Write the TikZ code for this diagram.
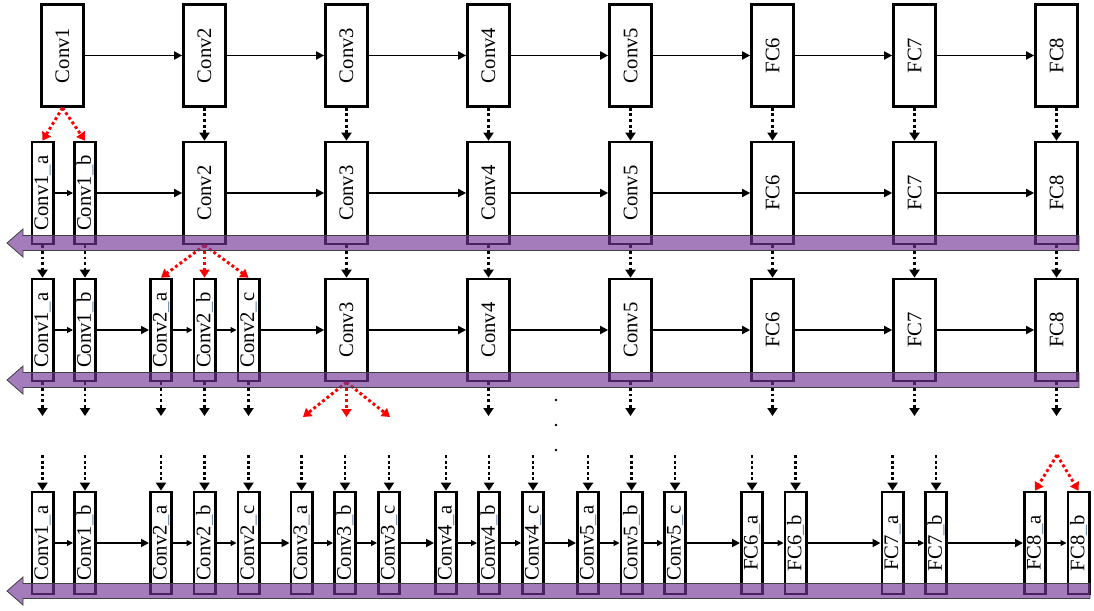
\documentclass[tikz,border=0pt]{standalone}
\usepackage{fontspec}
\setmainfont{Liberation Serif}
\usepackage{xcolor}
\usepackage{tikz}
\usetikzlibrary{arrows.meta}

\definecolor{bandpurple}{RGB}{115,52,150}
\definecolor{underbar}{RGB}{105,135,165}
\newcommand{\vlbl}[1]{\rotatebox{90}{#1}}
\newcommand{\sublbl}[2]{\rotatebox{90}{#1{\color{underbar}\_}#2}}

\begin{document}
\begin{tikzpicture}[
  x=0.75pt, y=-0.75pt,
  big/.style={draw, line width=2pt, minimum width=31.5pt, minimum height=76.5pt, inner sep=0pt, font=\fontsize{15.5}{18}\selectfont},
  small/.style={big, minimum width=16pt},
  arr/.style={-{Triangle[length=6pt,width=6pt]}, line width=1.35pt},
  thinarr/.style={-{Triangle[length=4.5pt,width=4.5pt]}, line width=0.8pt},
  drop/.style={-{Triangle[length=6pt,width=7.5pt]}, line width=2.2pt, dash pattern=on 2.2pt off 2pt},
  split/.style={drop, red},
  band/.style={draw=black!75, line width=0.6pt, fill=bandpurple, fill opacity=0.65}
]
\useasboundingbox (0,0) rectangle (1094,610);

\foreach \n [count=\k from 0] in {Conv1,Conv2,Conv3,Conv4,Conv5,FC6,FC7,FC8}
  \node[big] (r1g\k) at (62.5+142*\k,55.5) {\vlbl{\n}};
\foreach \k [evaluate=\k as \j using int(\k+1)] in {0,...,6}
  \draw[arr] (r1g\k) -- (r1g\j);

\node[small] (r2n1) at (42.5,193) {\sublbl{Conv1}{a}};
\node[small] (r2n2) at (85,193) {\sublbl{Conv1}{b}};
\foreach \n [count=\k from 1] in {Conv2,Conv3,Conv4,Conv5,FC6,FC7,FC8}
  \node[big] (r2g\k) at (62.5+142*\k,193) {\vlbl{\n}};
\draw[thinarr] (r2n1) -- (r2n2);
\draw[arr] (r2n2) -- (r2g1);
\foreach \k [evaluate=\k as \j using int(\k+1)] in {1,...,6}
  \draw[arr] (r2g\k) -- (r2g\j);

\foreach \g/\p/\x [count=\i] in {Conv1/a/42.5, Conv1/b/85, Conv2/a/161, Conv2/b/204.5, Conv2/c/248.5}
  \node[small] (r3n\i) at (\x,330) {\sublbl{\g}{\p}};
\foreach \n [count=\k from 2] in {Conv3,Conv4,Conv5,FC6,FC7,FC8}
  \node[big] (r3g\k) at (62.5+142*\k,330) {\vlbl{\n}};
\foreach \i/\j/\s in {1/2/thinarr, 2/3/arr, 3/4/thinarr, 4/5/thinarr}
  \draw[\s] (r3n\i) -- (r3n\j);
\draw[arr] (r3n5) -- (r3g2);
\foreach \k [evaluate=\k as \j using int(\k+1)] in {2,...,6}
  \draw[arr] (r3g\k) -- (r3g\j);

\foreach \g/\p/\x [count=\i] in {Conv1/a/42.5, Conv1/b/85, Conv2/a/161, Conv2/b/204.5, Conv2/c/248.5,
    Conv3/a/301.5, Conv3/b/345, Conv3/c/389, Conv4/a/446, Conv4/b/489, Conv4/c/533,
    Conv5/a/588, Conv5/b/631.5, Conv5/c/675, FC6/a/752, FC6/b/795.5, FC7/a/892.5, FC7/b/936,
    FC8/a/1035, FC8/b/1078.5}
  \node[small] (r4n\i) at (\x,543) {\sublbl{\g}{\p}};
\foreach \i/\j/\s in {1/2/thinarr, 2/3/arr, 3/4/thinarr, 4/5/thinarr, 5/6/arr, 6/7/thinarr, 7/8/thinarr,
    8/9/arr, 9/10/thinarr, 10/11/thinarr, 11/12/arr, 12/13/thinarr, 13/14/thinarr, 14/15/arr,
    15/16/thinarr, 16/17/arr, 17/18/thinarr, 18/19/arr, 19/20/thinarr}
  \draw[\s] (r4n\i) -- (r4n\j);

\draw[split] (r1g0.south) -- (r2n1.north);
\draw[split] (r1g0.south) -- (r2n2.north);
\foreach \k in {1,...,7}
  \draw[drop] (r1g\k) -- (r2g\k);

\draw[drop] (r2n1) -- (r3n1);
\draw[drop] (r2n2) -- (r3n2);
\foreach \i in {3,4,5}
  \draw[split] (r2g1.south) -- (r3n\i.north);
\foreach \k in {2,...,7}
  \draw[drop] (r2g\k) -- (r3g\k);

\foreach \i/\x in {1/42.5, 2/85, 3/161, 4/204.5, 5/248.5} {
  \coordinate (r3o\i) at (\x,416);
  \draw[drop] (r3n\i.south) -- (r3o\i);
}
\foreach \k in {3,...,7} {
  \coordinate (r3o\k g) at (62.5+142*\k,416);
  \draw[drop] (r3g\k.south) -- (r3o\k g);
}
\foreach \x [count=\i] in {303,346.5,390} {
  \coordinate (r3s\i) at (\x,417);
  \draw[split] (r3g2.south) -- (r3s\i);
}

\foreach \i in {1,...,18} {
  \coordinate (r4o\i) at (r4n\i.north |- 0,455);
  \draw[drop] (r4o\i) -- (r4n\i.north);
}
\coordinate (r4s) at (1057,455);
\draw[split] (r4s) -- (r4n19.north);
\draw[split] (r4s) -- (r4n20.north);

\foreach \y in {400,425,450}
  \fill (556,\y) circle (1.1pt);

\foreach \y/\e in {243/1079, 380/1079, 591/1090}
  \draw[band] (7,\y) -- (23,\y-14) -- (23,\y-7.5) -- (\e,\y-7.5) -- (\e,\y+7.5) -- (23,\y+7.5) -- (23,\y+14) -- cycle;
\end{tikzpicture}
\end{document}
